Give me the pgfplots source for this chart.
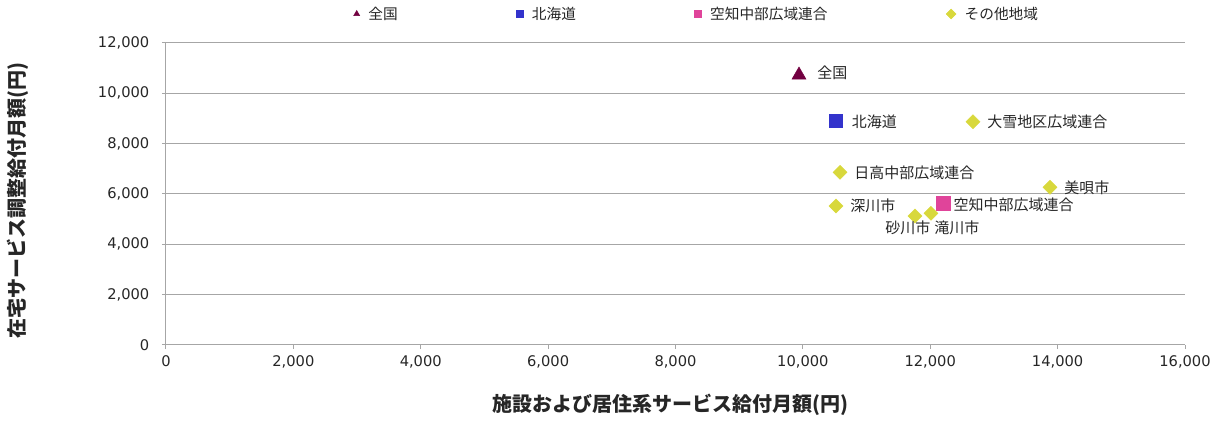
\documentclass[border=0pt]{standalone}
\usepackage{fontspec}
\setmainfont{DejaVu Sans}
\newfontfamily\jp{Noto Sans CJK JP}
\usepackage{pgfplots}
\pgfplotsset{compat=1.18}
\definecolor{cTri}{HTML}{720040}
\definecolor{cBlue}{HTML}{3333CC}
\definecolor{cPink}{HTML}{E0449A}
\definecolor{cYel}{HTML}{D8D83C}
\definecolor{gridc}{HTML}{A6A6A6}
\definecolor{txt}{HTML}{262626}
\begin{document}
\begin{tikzpicture}
\begin{axis}[
  at={(0,0)}, anchor=south west,
  scale only axis, width=764.25pt, height=226.5pt,
  xmin=0, xmax=16000, ymin=0, ymax=12000,
  xtick={0,2000,...,16000}, ytick={0,2000,...,12000},
  hide obscured x ticks=false, hide obscured y ticks=false,
  ymajorgrids, grid style={gridc, line width=0.75pt},
  axis lines*=left, axis line style={gridc, line width=0.75pt},
  tick style={gridc, line width=0.75pt}, tick align=outside, major tick length=3pt,
  scaled ticks=false,
  /pgf/number format/1000 sep={,},
  /pgf/number format/assume math mode=true,
  tick label style={font=\fontsize{11}{13}\selectfont, text=txt},
  xticklabel style={yshift=-1.5pt},
  yticklabel style={xshift=-6pt},
  xlabel={\jp\bfseries 施設および居住系サービス給付月額(円)},
  ylabel={\jp\bfseries 在宅サービス調整給付月額(円)},
  xlabel style={at={(axis description cs:0.495,0)}, anchor=center, yshift=-45pt, font=\fontsize{15}{17}\selectfont, text=txt},
  ylabel style={at={(axis description cs:-0.1452,0.48)}, anchor=center, font=\fontsize{15}{17}\selectfont, text=txt},
  legend style={at={(axis description cs:0.52,1)}, anchor=center, yshift=21.75pt, draw=none, fill=none,
    legend columns=4, font=\jp\fontsize{11}{13}\selectfont, text=txt,
    nodes={inner sep=0pt},
    /tikz/every odd column/.append style={column sep=6.5pt},
    /tikz/every even column/.append style={column sep=89pt}},
  legend image code/.code={\path[#1] plot[mark size=2.6pt] coordinates {(0pt,0pt)};},
  nodes near coords style={font=\jp\fontsize{11.25}{13}\selectfont, text=txt, inner sep=0pt, anchor=west},
]
% 全国
\addplot[only marks, mark=triangle*, mark size=6pt, mark options={draw=cTri, fill=cTri},
  nodes near coords={全国}, nodes near coords style={xshift=13.5pt, yshift=1.5pt}]
  coordinates {(9939,10727)};
\addlegendentry{全国}
% 北海道
\addplot[only marks, mark=square*, mark size=5pt, mark options={draw=cBlue, fill=cBlue},
  nodes near coords={北海道}, nodes near coords style={xshift=12pt, yshift=-0.5pt}]
  coordinates {(10515,8900)};
\addlegendentry{北海道}
% 空知中部広域連合
\addplot[only marks, mark=square*, mark size=5pt, mark options={draw=cPink, fill=cPink},
  nodes near coords={空知中部広域連合}, nodes near coords style={xshift=7.5pt, yshift=-1pt}]
  coordinates {(12205,5630)};
\addlegendentry{空知中部広域連合}
% その他地域
\addplot[only marks, mark=square*, mark size=3.7pt, mark options={draw=cYel, fill=cYel, rotate=45},
  point meta=explicit symbolic, nodes near coords, nodes near coords style={xshift=10.5pt}]
  table[meta=label] {
x y label
12671 8872 大雪地区広域連合
10583 6860 日高中部広域連合
13880 6265 美唄市
10520 5522 深川市
};
\addlegendentry{その他地域}
\addplot[forget plot, only marks, mark=square*, mark size=3.7pt, mark options={draw=cYel, fill=cYel, rotate=45},
  nodes near coords={砂川市}, nodes near coords style={anchor=center, xshift=-5.25pt, yshift=-8.8pt}]
  coordinates {(11760,5125)};
\addplot[forget plot, only marks, mark=square*, mark size=3.7pt, mark options={draw=cYel, fill=cYel, rotate=45},
  nodes near coords={滝川市}, nodes near coords style={anchor=center, xshift=19.5pt, yshift=-11pt}]
  coordinates {(12011,5232)};
\end{axis}
\pgfresetboundingbox
\path (-124.5pt,-57pt) rectangle (789pt,258.75pt);
\end{tikzpicture}
\end{document}
